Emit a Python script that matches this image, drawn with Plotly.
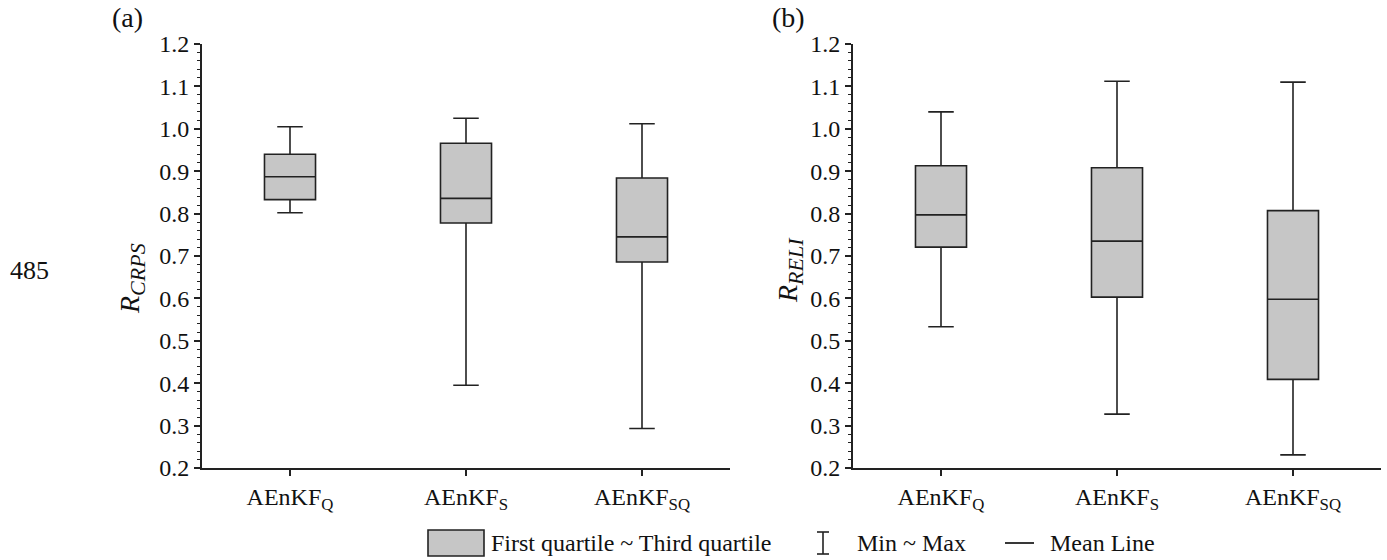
import plotly.graph_objects as go

W, H = 1387, 560
categories = ["AEnKF<sub>Q</sub>", "AEnKF<sub>S</sub>", "AEnKF<sub>SQ</sub>"]
# panel (a) R_CRPS
crps_min = [0.802, 0.395, 0.293]
crps_q1 = [0.833, 0.778, 0.686]
crps_med = [0.887, 0.836, 0.745]
crps_q3 = [0.940, 0.966, 0.884]
crps_max = [1.005, 1.025, 1.012]
# panel (b) R_RELI
reli_min = [0.533, 0.327, 0.231]
reli_q1 = [0.721, 0.603, 0.409]
reli_med = [0.797, 0.735, 0.598]
reli_q3 = [0.913, 0.908, 0.807]
reli_max = [1.040, 1.112, 1.110]
y_ticks = [0.2, 0.3, 0.4, 0.5, 0.6, 0.7, 0.8, 0.9, 1.0, 1.1, 1.2]

FONT = "Liberation Serif, Times New Roman, serif"
LC = "#222222"
FILL = "#c6c6c6"

L_TOP, L_BOT = 44, 468
PH = L_BOT - L_TOP

def px_x(p):
    return p / W

def px_y(p):
    return (L_BOT - p) / PH

fig = go.Figure()
xs = list(range(len(categories)))
for i, (mn, q1, md, q3, mx) in enumerate([
        (crps_min, crps_q1, crps_med, crps_q3, crps_max),
        (reli_min, reli_q1, reli_med, reli_q3, reli_max)]):
    sfx = "" if i == 0 else "2"
    fig.add_trace(go.Box(
        x=xs, q1=q1, median=md, q3=q3, lowerfence=mn, upperfence=mx,
        width=0.29, whiskerwidth=0.5, fillcolor=FILL,
        line=dict(color=LC, width=1.6), boxpoints=False,
        xaxis="x" + sfx, yaxis="y" + sfx, showlegend=False, hoverinfo="skip"))

axis_common = dict(showline=True, linecolor=LC, linewidth=2, mirror=False,
                   showgrid=False, zeroline=False, ticks="outside",
                   tickcolor=LC, tickwidth=1.5, ticklen=6,
                   tickfont=dict(family=FONT, size=24, color="#111"))
xcommon = dict(axis_common, tickmode="array", tickvals=xs, ticktext=categories,
               range=[-0.5, 2.5])
ycommon = dict(axis_common, range=[0.2, 1.2], tickmode="array", tickvals=y_ticks,
               ticktext=[f"{v:.1f}" for v in y_ticks],
               minor=dict(ticks="outside", ticklen=3, tickcolor=LC, tickwidth=1.2,
                          dtick=0.02, tick0=0.2, showgrid=False))

fig.update_layout(
    width=W, height=H, plot_bgcolor="white", paper_bgcolor="white",
    margin=dict(l=0, r=0, t=L_TOP, b=H - L_BOT),
    xaxis=dict(xcommon, domain=[px_x(202), px_x(730)], anchor="y"),
    yaxis=dict(ycommon, domain=[0, 1], anchor="x"),
    xaxis2=dict(xcommon, domain=[px_x(853), px_x(1381)], anchor="y2"),
    yaxis2=dict(ycommon, domain=[0, 1], anchor="x2"),
    font=dict(family=FONT, color=LC),
)

ann = []
def text(x, y, s, size=20, xanchor="center", angle=0):
    ann.append(dict(x=px_x(x), y=px_y(y), xref="paper", yref="paper", text=s,
                    showarrow=False, xanchor=xanchor, yanchor="middle",
                    textangle=angle, font=dict(family=FONT, size=size, color="#111")))

text(127, 18, "(a)", size=28)
text(788, 18, "(b)", size=28)
text(29, 270, "485", size=26)
text(132, 279, "<i>R</i><sub><span style='font-size:22px'><i>CRPS</i></span></sub>", size=28, angle=-90)
text(790, 270, "<i>R</i><sub><span style='font-size:22px'><i>RELI</i></span></sub>", size=28, angle=-90)

# legend
ly = 543
text(489, ly, "First quartile ~ Third quartile", size=24, xanchor="left")
text(855, ly, "Min ~ Max", size=24, xanchor="left")
text(1048, ly, "Mean Line", size=24, xanchor="left")
fig.update_layout(annotations=ann)

shapes = [
    dict(type="rect", xref="paper", yref="paper", x0=px_x(428), x1=px_x(484),
         y0=px_y(556), y1=px_y(530), fillcolor=FILL, line=dict(color=LC, width=1.6)),
    dict(type="line", xref="paper", yref="paper", x0=px_x(823), x1=px_x(823),
         y0=px_y(532), y1=px_y(554), line=dict(color=LC, width=1.6)),
    dict(type="line", xref="paper", yref="paper", x0=px_x(817), x1=px_x(829),
         y0=px_y(532), y1=px_y(532), line=dict(color=LC, width=1.6)),
    dict(type="line", xref="paper", yref="paper", x0=px_x(817), x1=px_x(829),
         y0=px_y(554), y1=px_y(554), line=dict(color=LC, width=1.6)),
    dict(type="line", xref="paper", yref="paper", x0=px_x(1005), x1=px_x(1034),
         y0=px_y(543), y1=px_y(543), line=dict(color=LC, width=1.8)),
]
fig.update_layout(shapes=shapes)

fig.write_html("out.html", config={"displayModeBar": False},
               post_script="document.body.style.margin='0';")
